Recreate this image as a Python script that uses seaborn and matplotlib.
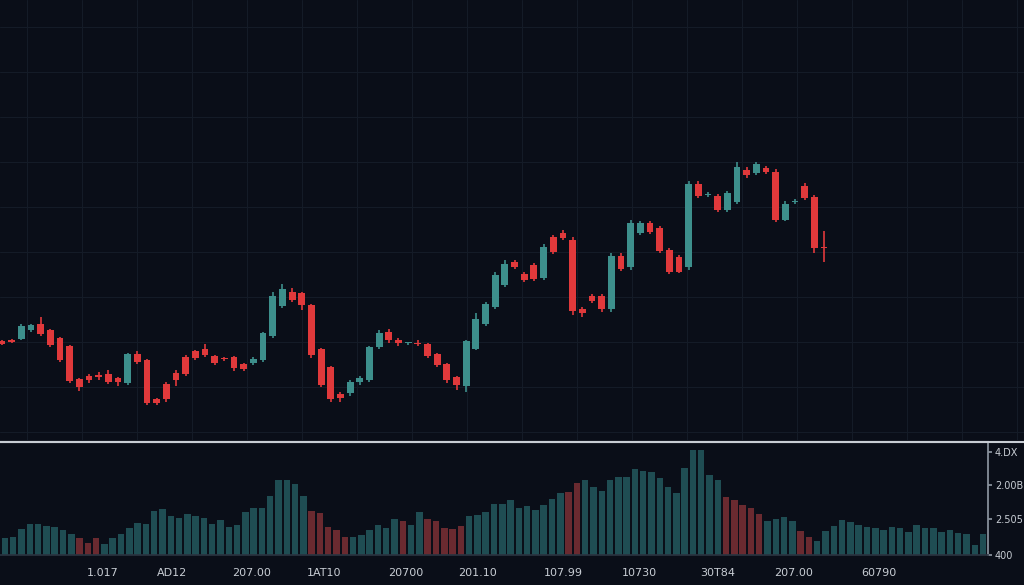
import numpy as np
import pandas as pd
import matplotlib
matplotlib.use("Agg")
import matplotlib.pyplot as plt
import seaborn as sns

# candle data (price units)
opens  = [159,160,161,170,176,170,162,154,121,124,125,126,122,117,146,140,101,116,127,143,149,151,144,142,143,136,137,140,164,194,208,207,195,151,133,106,107,118,120,153,168,160,157,157,156,146,136,123,114,151,
          176,193,215,238,226,235,222,263,267,260,191,204,204,191,244,233,267,277,272,250,243,233,316,305,304,290,298,330,327,332,328,280,298,314,303,253]
closes = [156,158,174,175,166,155,140,119,113,120,123,118,118,146,138,97,97,101,120,126,142,145,137,141,132,131,141,167,204,211,200,195,145,115,101,102,118,122,153,167,160,157,157,156,144,135,120,115,159,181,
          196,225,236,233,220,221,253,248,262,189,187,199,191,244,231,277,277,268,249,228,228,316,304,305,290,307,333,325,336,328,280,296,299,302,252,252]
highs  = [160,161,176,176,183,171,163,155,122,126,128,130,123,147,149,141,102,118,130,145,150,156,145,143,144,137,143,168,208,216,212,208,196,152,134,108,120,124,154,170,171,162,158,160,157,147,137,124,160,187,
          198,228,240,240,228,237,256,265,270,263,193,206,206,247,247,280,279,279,274,252,245,319,319,308,306,309,338,333,338,334,331,299,301,317,305,269]
lows   = [155,157,160,168,164,153,138,117,109,117,120,116,114,115,136,95,95,98,114,124,140,143,135,139,129,129,135,138,162,192,198,190,142,113,98,98,104,115,118,151,157,154,155,154,142,133,117,110,108,150,
          174,191,213,231,218,219,220,246,260,185,183,197,188,188,229,230,265,266,247,226,227,230,302,303,288,288,296,322,325,326,278,279,296,300,247,238]

vol = [50,52,75,90,90,85,83,73,60,50,35,50,32,50,62,80,92,90,128,135,115,108,120,115,108,90,102,83,88,125,138,138,172,218,218,208,172,128,122,82,72,52,52,58,72,88,78,105,100,88,125,105,98,80,77,85,115,117,127,150,148,162,138,144,130,145,165,182,185,210,218,200,187,220,228,228,252,246,242,225,198,182,253,308,308,235,218,168,162,145,138,120,100,105,112,100,70,52,40,70,85,102,97,87,83,80,73,82,80,68,88,78,80,67,73,65,60,30,60]
vol_red = [9,10,11,37,38,39,40,41,48,51,52,53,54,55,68,69,87,88,89,90,91,96,97]
vol_labels = ["4.DX", "2.00B", "2.505", "400"]
vol_label_vals = [300, 205, 105, 0]
x_labels = ["1.017", "AD12", "207.00", "1AT10", "20700", "201.10", "107.99", "10730", "30T84", "207.00", "60790"]
x_label_px = [93, 162, 242, 315, 396, 468, 554, 630, 709, 785, 870]

BG = "#0a0e18"
TEAL = "#3d8f8c"
RED = "#e0393b"
sns.set_theme(style="dark")
plt.rcParams['font.family'] = ['DejaVu Sans']

fig = plt.figure(figsize=(10.24, 5.85), dpi=100, facecolor=BG)
ax = fig.add_axes([0, 1 - 440/585, 1, 440/585])
ax.set_facecolor(BG)
n = len(opens)
step = 822 / (n - 1)
ax.set_xlim(-2/step, (1024-2)/step)
ax.set_ylim(60, 500)
for s in ax.spines.values():
    s.set_visible(False)
ax.set_xticks(np.arange(27/step - 0.2, 110, 55/step))
ax.set_yticks(np.arange(68, 500, 45))
ax.grid(True, color="#141b27", lw=0.8)
ax.tick_params(left=False, bottom=False, labelleft=False, labelbottom=False)
ax.set_axisbelow(True)

df = pd.DataFrame(dict(i=np.arange(n), o=opens, c=closes, h=highs, l=lows))
df["col"] = np.where(df.c >= df.o, TEAL, RED)
ax.vlines(df.i, df.l, df.h, colors=df.col, lw=1.2, zorder=2)
body = (df.c - df.o).abs().clip(lower=1.2)
ax.bar(df.i, body, bottom=np.minimum(df.o, df.c), width=0.7, color=df.col,
       linewidth=0, zorder=3)

# volume panel
vax = fig.add_axes([0, 1 - 555/585, 988/1024, 113/585])
vax.set_facecolor(BG)
m = len(vol)
vdf = pd.DataFrame(dict(i=np.arange(m), v=vol))
vdf["kind"] = ["down" if k in vol_red else "up" for k in range(m)]
sns.barplot(data=vdf, x="i", y="v", hue="kind", palette={"up": "#1f4d53", "down": "#6a2a30"},
            dodge=False, legend=False, native_scale=True, width=0.78, linewidth=0,
            saturation=1, ax=vax)
vax.set_xlim(-0.6, m - 0.4)
vax.set_ylim(0, 330)
vax.set_xlabel(""); vax.set_ylabel("")
for k, s in vax.spines.items():
    s.set_visible(k in ("top", "right", "bottom"))
vax.spines["top"].set_color("#c8cdd4"); vax.spines["top"].set_linewidth(1.5)
vax.spines["right"].set_color("#8a939e")
vax.spines["bottom"].set_color("#2a3340")
vax.yaxis.tick_right()
vax.set_yticks(vol_label_vals)
vax.set_yticklabels(vol_labels, color="#c8cdd4", fontsize=7)
vax.tick_params(axis="y", length=3, color="#8a939e", pad=2)
tick_i = [(p + 5) * m / 988 for p in x_label_px]
vax.set_xticks(tick_i)
vax.set_xticklabels(x_labels, color="#c8cdd4", fontsize=8)
vax.tick_params(axis="x", length=3, color="#3a4450", pad=6)
vax.grid(False)
fig.add_artist(plt.Line2D([0, 1], [1 - 442/585]*2, color="#c8cdd4", lw=1.5))

fig.savefig("out.png", dpi=100, facecolor=BG)
